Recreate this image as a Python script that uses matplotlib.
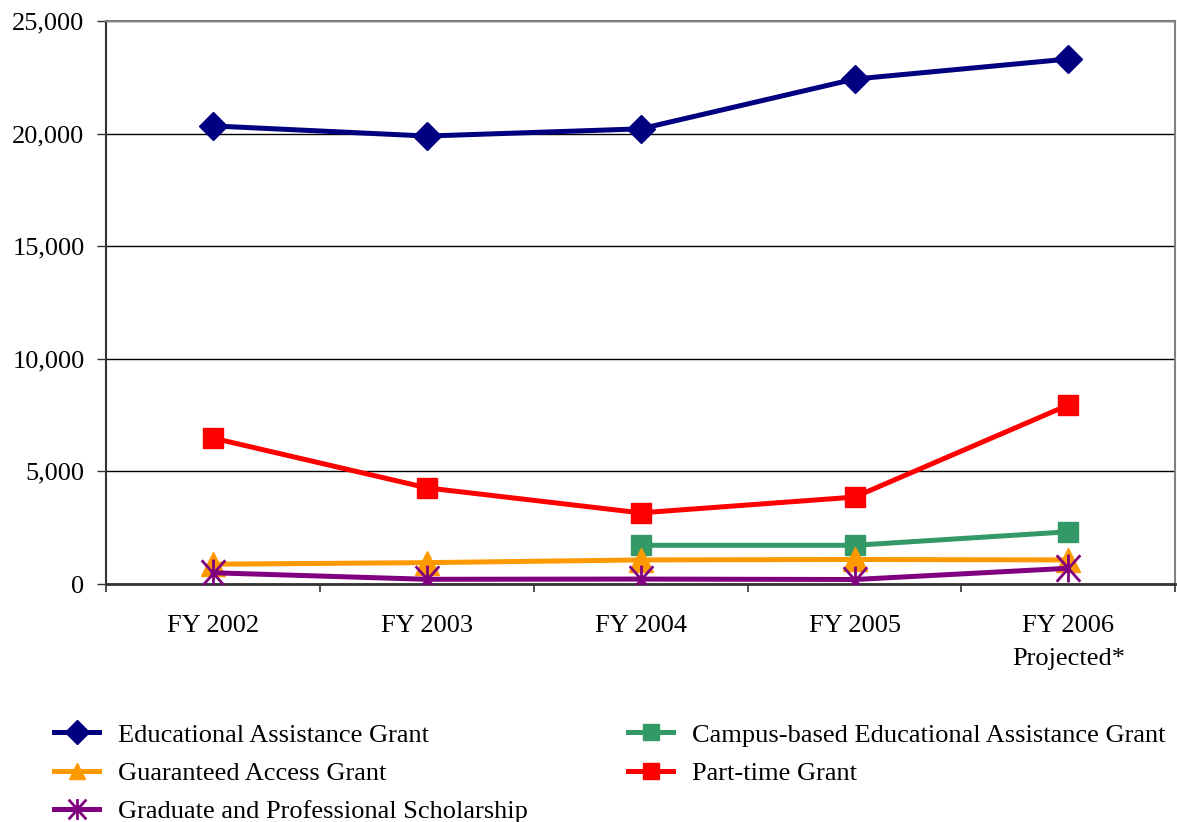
import matplotlib
matplotlib.use("Agg")
import matplotlib.pyplot as plt
from matplotlib.ticker import FuncFormatter, FixedLocator
from matplotlib.path import Path

categories = ["FY 2002", "FY 2003", "FY 2004", "FY 2005", "FY 2006\nProjected*"]
educational_assistance = [20340, 19890, 20210, 22420, 23310]
campus_based = [None, None, 1720, 1720, 2320]
guaranteed_access = [880, 950, 1070, 1090, 1070]
part_time = [6480, 4270, 3160, 3860, 7950]
graduate_professional = [500, 210, 220, 200, 700]

plt.rcParams['font.family'] = ['Liberation Serif', 'DejaVu Serif']

fig = plt.figure(figsize=(11.77, 8.22), dpi=100)
ax = fig.add_axes([0.0901, 0.2895, 0.9085, 0.685])

x = list(range(len(categories)))

def xy(vals):
    xs = [i for i, v in zip(x, vals) if v is not None]
    ys = [v for v in vals if v is not None]
    return xs, ys

star = Path([(0, -1), (0, 1), (-0.85, -0.95), (0.85, 0.95), (-0.85, 0.95), (0.85, -0.95)],
            [Path.MOVETO, Path.LINETO, Path.MOVETO, Path.LINETO, Path.MOVETO, Path.LINETO])

lw = 3.6
h_eag, = ax.plot(*xy(educational_assistance), color='#000080', lw=lw, marker='D', ms=14,
                 label='Educational Assistance Grant', zorder=5)
h_camp, = ax.plot(*xy(campus_based), color='#339966', lw=lw, marker='s', ms=14,
                  label='Campus-based Educational Assistance Grant', zorder=4)
h_gag, = ax.plot(*xy(guaranteed_access), color='#FF9900', lw=lw, marker='^', ms=17,
                 label='Guaranteed Access Grant', zorder=4)
h_pt, = ax.plot(*xy(part_time), color='#FF0000', lw=lw, marker='s', ms=14,
                label='Part-time Grant', zorder=4)
h_gps, = ax.plot(*xy(graduate_professional), color='#800080', lw=lw, marker=star, ms=20,
                 mew=2.0, label='Graduate and Professional Scholarship', zorder=5)

ax.set_xlim(-0.5, len(categories) - 0.5)
ax.set_ylim(0, 25000)
ax.set_yticks([0, 5000, 10000, 15000, 20000, 25000])
ax.yaxis.set_major_formatter(FuncFormatter(lambda v, p: f"{int(v):,}"))
ax.grid(axis='y', color='black', lw=1.0)
ax.set_axisbelow(True)

ax.set_xticks(x)
ax.set_xticklabels(categories, linespacing=1.7)
ax.xaxis.set_minor_locator(FixedLocator([i - 0.5 for i in range(len(categories) + 1)]))
ax.tick_params(axis='x', which='major', length=0, pad=22, labelsize=19)
ax.tick_params(axis='x', which='minor', length=6, width=1.2, color='#333333')
ax.tick_params(axis='y', length=6.5, width=1.0, color='#333333', labelsize=19, pad=9)

for s in ['top', 'right']:
    ax.spines[s].set_color('#808080')
    ax.spines[s].set_linewidth(1.5)
ax.spines['left'].set_color('#333333')
ax.spines['left'].set_linewidth(1.5)
ax.spines['bottom'].set_color('#333333')
ax.spines['bottom'].set_linewidth(2.0)

order = [h_eag, h_gag, h_gps, h_camp, h_pt]
leg = fig.legend(order, [h.get_label() for h in order],
                 ncol=2, loc='upper left', bbox_to_anchor=(0.037, 0.133),
                 frameon=False, fontsize=19, handlelength=1.7, handletextpad=0.72,
                 columnspacing=3.8, labelspacing=0.56, borderaxespad=0)
for lh in leg.legend_handles:
    lh.set_markersize(12)
leg.legend_handles[2].set_markersize(15)

fig.savefig("out.png", dpi=100)
